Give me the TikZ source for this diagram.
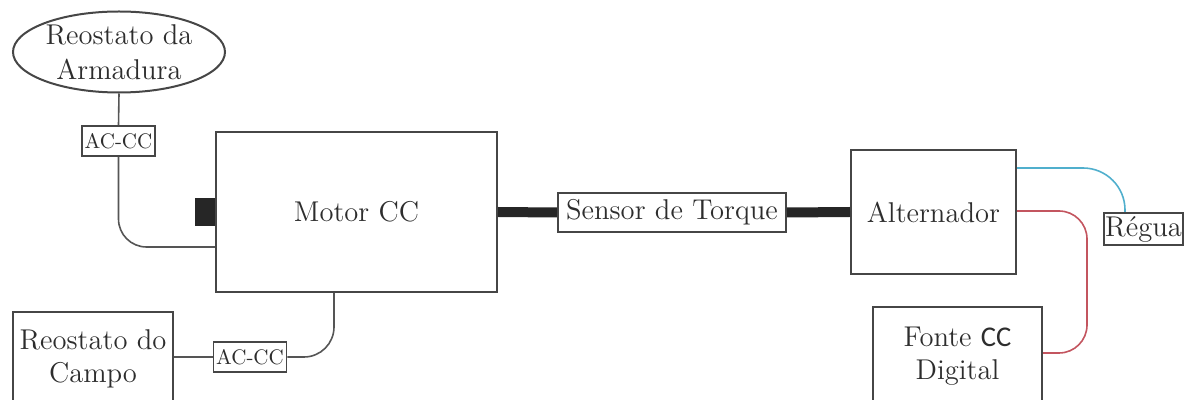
\documentclass[tikz,border=0pt]{standalone}
\usepackage{fontspec}
\newfontfamily\ccfont{Carlito}
\usepackage{tikz}
\usetikzlibrary{positioning,shapes.geometric}

\definecolor{wire}{RGB}{85,85,85}
\definecolor{edge}{RGB}{70,70,70}
\definecolor{ink}{RGB}{45,45,45}
\definecolor{bluewire}{RGB}{80,175,205}
\definecolor{redwire}{RGB}{195,85,95}

\begin{document}
\begin{tikzpicture}[
  x=0.5pt, y=-0.5pt,
  blk/.style={draw=edge, line width=1pt, text=ink, inner sep=0pt, align=center,
    font=\fontsize{14.3}{16.5}\selectfont},
  conv/.style={draw=edge, line width=0.8pt, text=ink, inner sep=0pt,
    minimum width=36.5pt, minimum height=15pt, font=\fontsize{10.5}{12}\selectfont},
  ln/.style={draw=wire, line width=0.8pt},
  shaft/.style={draw=black!85, line width=5pt},
]
\clip (0,0) rectangle (1194,400);
% armature side
\node[blk, ellipse, minimum width=106pt, minimum height=40.5pt,
  font=\fontsize{14.3}{17.5}\selectfont] (arm) at (119,52) {Reostato da\\Armadura};
\node[conv] (acc1) at (118.5,141) {AC-CC};
% motor and shaft
\node[blk, minimum width=140.5pt, minimum height=80pt] (motor) at (356.5,212) {Motor CC};
\node[fill=black!85, inner sep=0pt, minimum width=10pt, minimum height=14pt,
  anchor=east] (brush) at (motor.west) {};
\node[blk, minimum width=114pt, minimum height=19.5pt] (sensor) at (672,212.5) {Sensor de Torque};
\node[blk, minimum width=82.5pt, minimum height=62pt] (alt) at (933.5,212) {Alternador};
\node[blk, minimum width=39.5pt, minimum height=16pt] (regua) at (1143.5,229) {Régua};
\node[blk, minimum width=84.5pt, minimum height=49pt] (fonte) at (957.5,356) {Fonte {\ccfont CC}\\Digital};
% field side
\node[blk, minimum width=80pt, minimum height=47pt] (campo) at (93,359) {Reostato do\\Campo};
\node[conv] (acc2) at (250,357) {AC-CC};
\coordinate (bend) at (1087,280);

\draw[ln] (arm.south) -- (acc1.north);
\draw[ln, rounded corners=14pt] (acc1.south) |- ([yshift=-17.5pt]motor.west);
\draw[ln] (acc2.west -| campo.east) -- (acc2.west);
\draw[ln, rounded corners=15pt] (acc2.east) -| ([xshift=-11.25pt]motor.south);
\draw[shaft] (motor.east) -- (sensor.west);
\draw[shaft] (sensor.east) -- (alt.west);
\draw[draw=bluewire, line width=0.8pt, rounded corners=21pt]
  ([yshift=22pt]alt.east) -| ([xshift=-9.25pt]regua.north);
\draw[draw=redwire, line width=0.8pt, rounded corners=14pt]
  ([yshift=0.5pt]alt.east) -| (bend) |- ([yshift=1.5pt]fonte.east);
\end{tikzpicture}
\end{document}
